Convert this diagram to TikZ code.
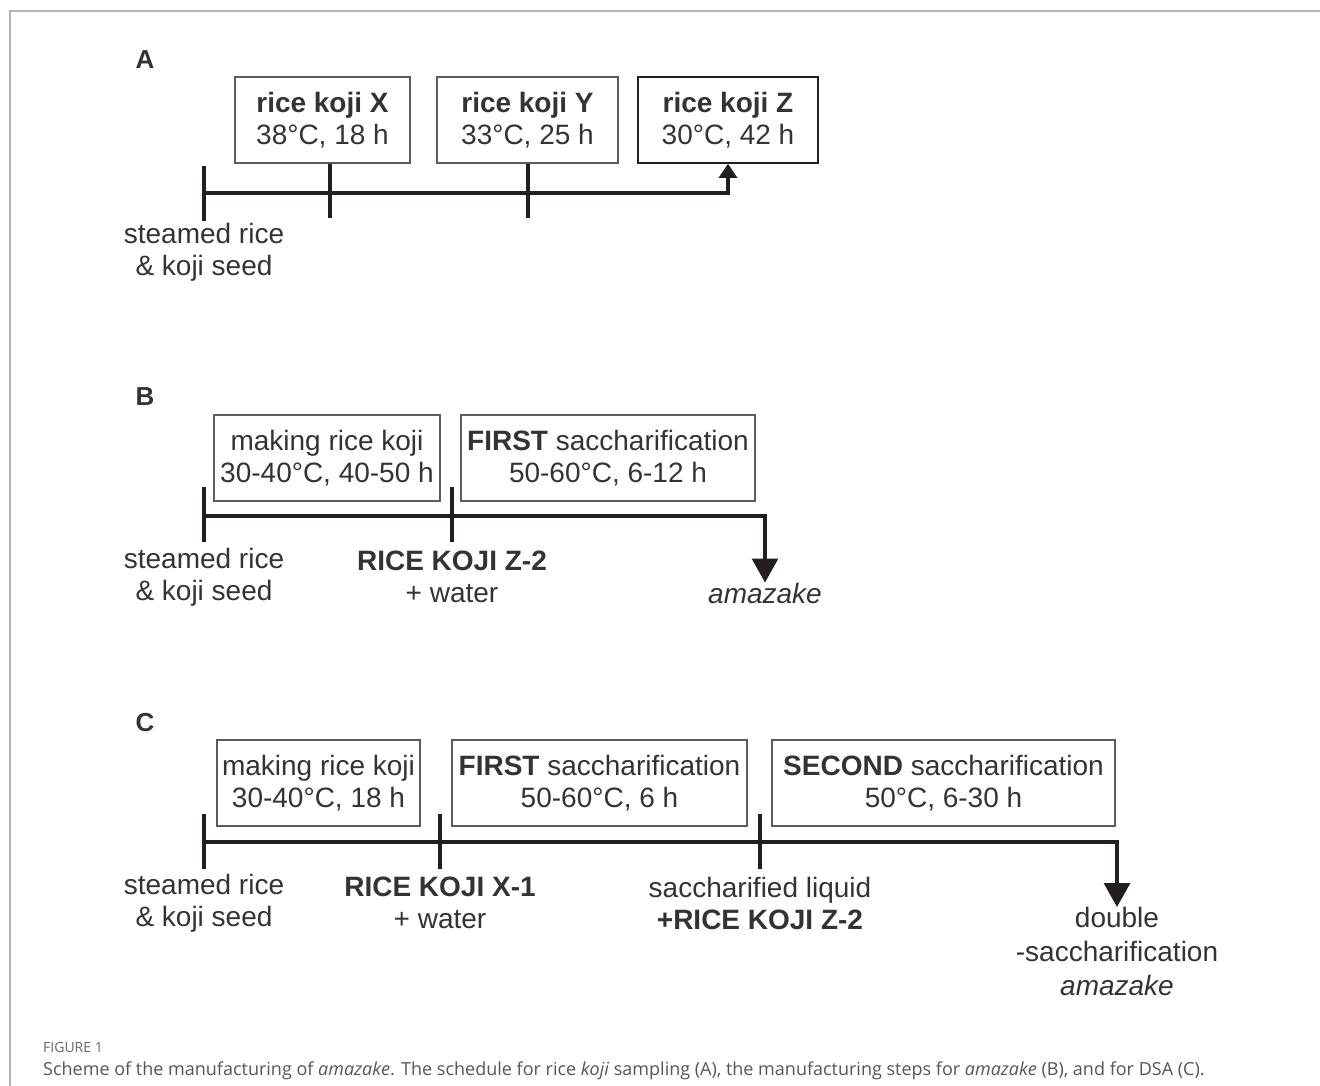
\documentclass[tikz,border=0pt]{standalone}
\usepackage{fontspec}
\setmainfont{Liberation Sans}
\newfontfamily\capfont{Open Sans}
\usetikzlibrary{arrows.meta}
\definecolor{Ink}{HTML}{333333}
\definecolor{Rule}{HTML}{231F20}
\definecolor{Frame}{HTML}{B4B4B4}
\definecolor{Caption}{HTML}{555555}

\begin{document}
\begin{tikzpicture}[x=1pt,y=-1pt,
    stagebox/.style={draw=Ink!80,line width=1.6pt,text=Ink,align=center,minimum height=86pt,inner sep=0pt,font=\fontsize{28}{32}\selectfont},
    note/.style={text=Ink,align=center,inner sep=0pt,font=\fontsize{28}{32}\selectfont},
    panel/.style={text=Ink,inner sep=0pt,font=\fontsize{26}{30}\selectfont\bfseries},
    timeline/.style={Rule,line width=3.2pt},
    tickline/.style={Rule,line width=3.2pt},
    >={Triangle[width=26pt,length=24pt]}]
    \useasboundingbox (0,0) rectangle (1320,1086);
    \draw[Frame,line width=2pt] (10,1086) -- (10,11) -- (1320,11);

    % A
    \node[panel] (la) at (145,60) {A};
    \node[stagebox,minimum width=175pt] (xbox) at (322.5,120) {\textbf{rice koji X}\\38°C, 18 h};
    \node[stagebox,minimum width=181pt] (ybox) at (527.5,120) {\textbf{rice koji Y}\\33°C, 25 h};
    \node[stagebox,minimum width=180pt,draw=Rule] (zbox) at (728,120) {\textbf{rice koji Z}\\30°C, 42 h};
    \coordinate (a0) at (204,193);
    \coordinate (a1) at (330,193);
    \coordinate (a2) at (528,193);
    \draw[timeline,-{Triangle[width=18pt,length=14pt]}] (a0) -| (zbox.south);
    \draw[tickline] ([yshift=-28pt]a0) -- ([yshift=27pt]a0);
    \draw[tickline] (xbox.south -| a1) -- ([yshift=-25pt]a1);
    \draw[tickline] (ybox.south -| a2) -- ([yshift=-25pt]a2);
    \node[note] (ra) at (204,252) {steamed rice\\\& koji seed};

    % B
    \node[panel] (lb) at (145,397) {B};
    \node[stagebox,minimum width=226pt] (bkoji) at (327,458) {making rice koji\\30-40°C, 40-50 h};
    \node[stagebox,minimum width=294pt] (bfirst) at (608,458) {\textbf{FIRST} saccharification\\50-60°C, 6-12 h};
    \coordinate (b0) at (204,516);
    \coordinate (b1) at (452,516);
    \node[note] (rb) at (204,577) {steamed rice\\\& koji seed};
    \node[note] (zb) at (452,577) {\textbf{RICE KOJI Z-2}\\+ water};
    \node[note,font=\fontsize{28}{32}\selectfont\itshape] (amazake) at (765,593) {amazake};
    \draw[timeline,->] (b0) -| (amazake.north);
    \draw[tickline] ([yshift=-26pt]b0) -- ([yshift=29pt]b0);
    \draw[tickline] ([yshift=-26pt]b1) -- ([yshift=29pt]b1);

    % C
    \node[panel] (lc) at (145,723) {C};
    \node[stagebox,minimum width=203pt] (ckoji) at (318.5,783) {making rice koji\\30-40°C, 18 h};
    \node[stagebox,minimum width=295pt] (cfirst) at (599.5,783) {\textbf{FIRST} saccharification\\50-60°C, 6 h};
    \node[stagebox,minimum width=343pt] (csecond) at (943.5,783) {\textbf{SECOND} saccharification\\50°C, 6-30 h};
    \coordinate (c0) at (204,842);
    \coordinate (c1) at (440,842);
    \coordinate (c2) at (760,842);
    \node[note] (rc) at (204,903) {steamed rice\\\& koji seed};
    \node[note] (xc) at (440,903) {\textbf{RICE KOJI X-1}\\+ water};
    \node[note] (lq) at (760,903) {saccharified liquid\\\textbf{+RICE KOJI Z-2}};
    \node[note,anchor=north,font=\fontsize{28}{34}\selectfont] (double) at (1117,907) {double\\-saccharification\\\textit{amazake}};
    \draw[timeline,->] (c0) -| (double.north);
    \draw[tickline] ([yshift=-27pt]c0) -- ([yshift=28pt]c0);
    \draw[tickline] ([yshift=-27pt]c1) -- ([yshift=28pt]c1);
    \draw[tickline] ([yshift=-27pt]c2) -- ([yshift=28pt]c2);

    % caption
    \node[anchor=west,inner sep=0pt,text=Caption!90,font=\capfont\fontsize{14}{16}\selectfont] (fig) at (43,1047) {FIGURE 1};
    \node[anchor=west,inner sep=0pt,text=Caption,font=\capfont\fontsize{18}{22}\selectfont] (cap) at (43,1071) {Scheme of the manufacturing of \textit{amazake}. The schedule for rice \textit{koji} sampling (A), the manufacturing steps for \textit{amazake} (B), and for DSA (C).};
  \end{tikzpicture}
\end{document}
